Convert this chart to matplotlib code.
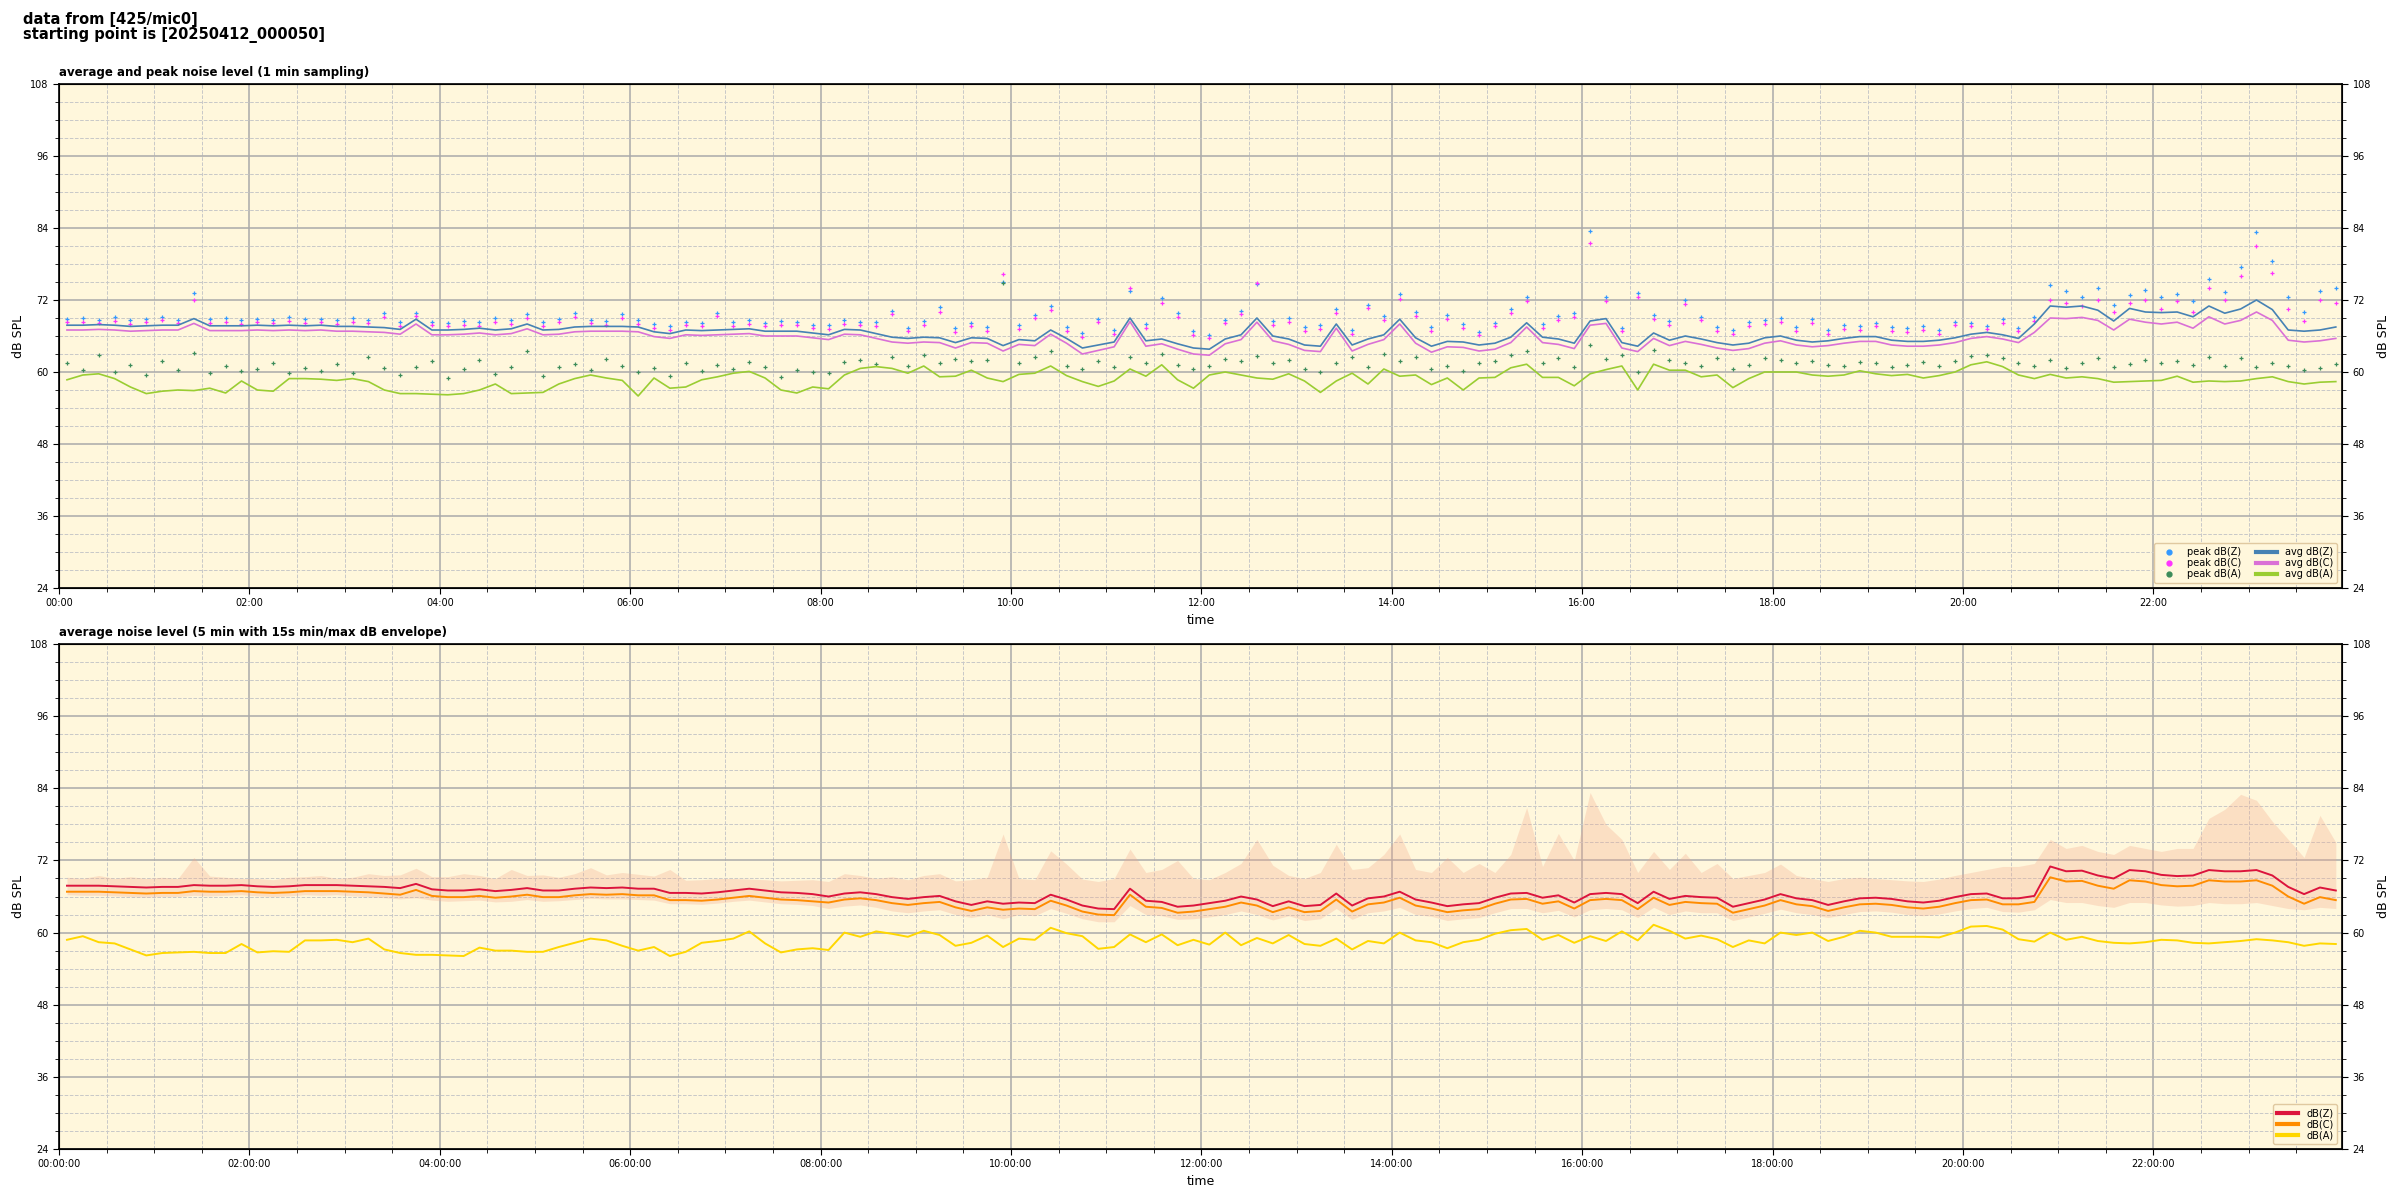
import numpy as np
import matplotlib
matplotlib.use("Agg")
import matplotlib.pyplot as plt
from matplotlib.lines import Line2D
from matplotlib.ticker import MultipleLocator, FuncFormatter

# ---------------- data (10-minute resolution) ----------------
minutes = np.arange(5, 1440, 10)  # sample centres in minutes after 00:00

# top chart: 1-min average levels
avg_z = [67.8, 67.8, 67.9, 67.8, 67.6, 67.7, 67.8, 67.8, 68.9, 67.7, 67.7, 67.7,
         67.8, 67.7, 67.8, 67.7, 67.8, 67.6, 67.6, 67.5, 67.4, 67.1, 68.8, 67.0,
         67.0, 67.1, 67.3, 67.0, 67.2, 68.0, 67.0, 67.1, 67.5, 67.6, 67.6, 67.6,
         67.5, 66.7, 66.4, 67.0, 66.9, 67.0, 67.1, 67.2, 66.8, 66.8, 66.8, 66.5,
         66.2, 67.1, 67.0, 66.4, 65.8, 65.6, 65.8, 65.7, 64.9, 65.7, 65.6, 64.4,
         65.4, 65.2, 67.0, 65.6, 64.0, 64.5, 65.0, 69.0, 65.2, 65.5, 64.7, 64.0,
         63.8, 65.5, 66.2, 69.0, 66.0, 65.5, 64.5, 64.3, 68.0, 64.5, 65.5, 66.2,
         68.8, 65.7, 64.3, 65.1, 65.0, 64.5, 64.8, 65.8, 68.2, 65.8, 65.5, 64.8,
         68.5, 68.9, 64.9, 64.3, 66.5, 65.3, 66.0, 65.5, 64.9, 64.5, 64.8, 65.7,
         66.0, 65.3, 65.0, 65.2, 65.6, 65.9, 65.9, 65.3, 65.1, 65.1, 65.3, 65.7,
         66.3, 66.6, 66.2, 65.6, 68.0, 71.0, 70.8, 71.0, 70.3, 68.5, 70.6, 70.0,
         69.9, 70.0, 69.2, 71.0, 69.8, 70.5, 72.0, 70.4, 67.0, 66.8, 67.0, 67.5]
avg_c = [67.0, 67.0, 67.1, 67.0, 66.8, 66.9, 67.0, 67.0, 68.1, 66.9, 66.9, 66.9,
         67.0, 66.9, 67.0, 66.9, 67.0, 66.8, 66.8, 66.7, 66.6, 66.3, 68.0, 66.2,
         66.2, 66.3, 66.5, 66.2, 66.4, 67.2, 66.2, 66.3, 66.7, 66.8, 66.8, 66.8,
         66.7, 65.9, 65.6, 66.2, 66.1, 66.2, 66.3, 66.4, 66.0, 66.0, 66.0, 65.7,
         65.4, 66.3, 66.2, 65.6, 65.0, 64.8, 65.0, 64.9, 64.0, 64.9, 64.8, 63.5,
         64.6, 64.4, 66.3, 64.8, 63.0, 63.6, 64.2, 68.4, 64.3, 64.7, 63.8, 63.0,
         62.8, 64.7, 65.4, 68.3, 65.2, 64.6, 63.6, 63.4, 67.3, 63.5, 64.6, 65.4,
         68.0, 64.8, 63.3, 64.2, 64.1, 63.5, 63.8, 64.9, 67.5, 64.9, 64.6, 63.9,
         67.8, 68.1, 64.0, 63.4, 65.6, 64.4, 65.1, 64.6, 64.0, 63.6, 63.9, 64.8,
         65.2, 64.5, 64.2, 64.4, 64.8, 65.1, 65.1, 64.5, 64.3, 64.3, 64.5, 64.9,
         65.6, 65.9, 65.5, 64.9, 66.6, 69.0, 68.9, 69.1, 68.6, 67.0, 68.8, 68.3,
         68.0, 68.3, 67.3, 69.2, 68.0, 68.6, 70.0, 68.6, 65.3, 65.0, 65.2, 65.6]
avg_a = [58.7, 59.5, 59.7, 58.9, 57.5, 56.4, 56.8, 57.0, 56.9, 57.3, 56.5, 58.5,
         57.0, 56.8, 58.9, 58.9, 58.8, 58.6, 58.9, 58.4, 57.0, 56.4, 56.4, 56.3,
         56.2, 56.4, 57.0, 58.0, 56.4, 56.5, 56.6, 58.0, 58.9, 59.5, 59.0, 58.6,
         56.0, 59.0, 57.3, 57.5, 58.7, 59.2, 59.8, 60.1, 59.0, 57.0, 56.5, 57.5,
         57.2, 59.5, 60.6, 60.9, 60.6, 59.8, 61.0, 59.2, 59.3, 60.3, 59.0, 58.4,
         59.6, 59.8, 61.0, 59.4, 58.4, 57.6, 58.5, 60.5, 59.3, 61.2, 58.7, 57.3,
         59.5, 60.0, 59.5, 59.0, 58.8, 59.7, 58.5, 56.6, 58.5, 59.8, 58.0, 60.5,
         59.3, 59.5, 57.9, 59.0, 57.0, 59.0, 59.1, 60.7, 61.3, 59.1, 59.1, 57.7,
         59.7, 60.4, 61.0, 57.0, 61.3, 60.3, 60.3, 59.2, 59.5, 57.4, 58.9, 60.0,
         60.0, 60.0, 59.5, 59.3, 59.5, 60.2, 59.7, 59.4, 59.6, 59.0, 59.4, 60.0,
         61.2, 61.7, 60.9, 59.5, 58.9, 59.6, 59.0, 59.2, 58.9, 58.3, 58.4, 58.5,
         58.6, 59.3, 58.3, 58.5, 58.4, 58.5, 58.9, 59.2, 58.4, 58.0, 58.3, 58.4]

# top chart: peak levels
peak_z = [68.8, 69.0, 68.7, 69.1, 68.6, 68.9, 69.2, 68.7, 73.2, 68.8, 69.0, 68.6,
          68.9, 68.7, 69.1, 68.8, 68.9, 68.6, 69.0, 68.7, 69.8, 68.3, 69.9, 68.4,
          68.2, 68.5, 68.3, 69.0, 68.6, 69.6, 68.3, 68.9, 69.8, 68.7, 68.5, 69.7,
          68.6, 68.0, 67.6, 68.4, 68.2, 69.9, 68.3, 68.6, 68.2, 68.5, 68.4, 67.9,
          67.8, 68.6, 68.4, 68.3, 70.2, 67.4, 68.5, 70.8, 67.3, 68.2, 67.5, 75.0,
          67.8, 69.5, 71.0, 67.5, 66.5, 68.9, 67.0, 73.5, 68.0, 72.3, 69.8, 66.8,
          66.2, 68.7, 70.2, 74.6, 68.5, 69.0, 67.5, 67.8, 70.5, 67.0, 71.2, 69.3,
          73.0, 70.0, 67.5, 69.5, 68.0, 66.7, 68.2, 70.5, 72.5, 68.0, 69.3, 69.8,
          83.5, 72.5, 67.4, 73.2, 69.5, 68.5, 72.0, 69.2, 67.5, 67.0, 68.3, 68.6,
          69.0, 67.5, 68.8, 67.0, 67.8, 67.6, 68.2, 67.5, 67.3, 67.6, 67.0, 68.4,
          68.2, 67.7, 68.8, 67.4, 69.2, 74.5, 73.5, 72.5, 74.0, 71.2, 72.8, 73.6,
          72.5, 73.0, 71.8, 75.5, 73.3, 77.5, 83.4, 78.5, 72.5, 70.0, 73.5, 74.0]
peak_c = [68.3, 68.4, 68.2, 68.5, 68.0, 68.3, 68.6, 68.1, 72.0, 68.2, 68.4, 68.0,
          68.3, 68.1, 68.5, 68.2, 68.3, 68.0, 68.4, 68.1, 69.1, 67.7, 69.3, 67.8,
          67.6, 67.9, 67.7, 68.4, 68.0, 69.0, 67.7, 68.3, 69.2, 68.1, 67.9, 69.0,
          68.0, 67.4, 67.0, 67.8, 67.6, 69.3, 67.7, 68.0, 67.6, 67.9, 67.8, 67.3,
          67.2, 68.0, 67.8, 67.7, 69.6, 66.8, 67.9, 70.0, 66.7, 67.6, 66.9, 76.4,
          67.2, 69.0, 70.4, 66.9, 65.9, 68.3, 66.4, 74.0, 67.4, 71.5, 69.2, 66.2,
          65.6, 68.1, 69.6, 74.9, 67.9, 68.4, 66.9, 67.2, 69.9, 66.4, 70.6, 68.7,
          72.2, 69.4, 66.9, 68.9, 67.4, 66.1, 67.6, 69.9, 71.8, 67.4, 68.7, 69.2,
          81.5, 71.8, 66.8, 72.5, 68.9, 67.9, 71.4, 68.6, 66.9, 66.4, 67.7, 68.0,
          68.4, 66.9, 68.2, 66.4, 67.2, 67.0, 67.6, 66.9, 66.7, 67.0, 66.4, 67.8,
          67.6, 67.1, 68.2, 66.8, 68.5, 72.0, 71.5, 71.0, 72.0, 70.0, 71.5, 72.0,
          70.5, 71.8, 70.0, 74.0, 72.0, 76.0, 81.0, 76.5, 70.5, 68.5, 72.0, 71.5]
peak_a = [61.5, 60.3, 62.8, 60.0, 61.2, 59.5, 61.8, 60.4, 63.2, 59.8, 61.0, 60.2,
          60.5, 61.5, 59.8, 60.7, 60.2, 61.3, 59.9, 62.5, 60.6, 59.5, 60.8, 61.8,
          59.0, 60.5, 62.0, 59.7, 60.9, 63.5, 59.4, 60.8, 61.4, 60.3, 62.1, 61.0,
          60.0, 60.7, 59.3, 61.5, 60.2, 61.2, 60.5, 61.6, 60.8, 59.2, 60.3, 60.0,
          59.8, 61.6, 62.0, 61.3, 62.5, 61.0, 62.8, 61.5, 62.2, 61.8, 62.0, 74.8,
          61.5, 62.5, 63.5, 61.0, 60.5, 61.8, 60.8, 62.5, 61.5, 63.0, 61.2, 60.5,
          61.0, 62.2, 61.8, 62.7, 61.5, 62.0, 60.5, 60.0, 61.5, 62.5, 60.8, 63.0,
          61.8, 62.5, 60.5, 61.0, 60.2, 61.5, 61.8, 62.8, 63.5, 61.5, 62.4, 60.8,
          64.5, 62.2, 62.8, 60.0, 63.6, 62.0, 61.5, 61.0, 62.4, 60.5, 61.2, 62.3,
          62.0, 61.5, 61.8, 61.2, 61.0, 61.6, 61.5, 60.8, 61.2, 61.6, 61.0, 61.9,
          62.6, 62.9, 62.3, 61.5, 61.0, 62.0, 60.6, 61.5, 62.3, 60.8, 61.4, 62.0,
          61.5, 61.8, 61.2, 62.5, 61.0, 62.3, 60.9, 61.5, 61.0, 60.3, 60.6, 61.4]

# bottom chart: 5-min averages and 15 s min/max envelope
lvl_z = [67.8, 67.8, 67.8, 67.7, 67.6, 67.5, 67.6, 67.6, 67.9, 67.8, 67.8, 67.9,
         67.7, 67.6, 67.7, 67.9, 67.9, 67.9, 67.8, 67.7, 67.6, 67.4, 68.1, 67.2,
         67.0, 67.0, 67.2, 66.9, 67.1, 67.4, 67.0, 67.0, 67.3, 67.5, 67.4, 67.5,
         67.3, 67.3, 66.6, 66.6, 66.5, 66.7, 67.0, 67.3, 67.0, 66.7, 66.6, 66.4,
         66.0, 66.5, 66.7, 66.4, 65.9, 65.6, 65.9, 66.1, 65.2, 64.6, 65.2, 64.8,
         65.0, 64.9, 66.3, 65.5, 64.5, 64.0, 63.9, 67.3, 65.3, 65.1, 64.3, 64.5,
         64.9, 65.3, 66.0, 65.5, 64.4, 65.2, 64.4, 64.6, 66.5, 64.5, 65.7, 66.0,
         66.8, 65.5, 65.0, 64.4, 64.7, 64.9, 65.8, 66.5, 66.6, 65.8, 66.2, 65.0,
         66.4, 66.6, 66.4, 64.9, 66.8, 65.6, 66.1, 65.9, 65.8, 64.3, 64.9, 65.5,
         66.4, 65.7, 65.4, 64.6, 65.2, 65.7, 65.8, 65.6, 65.2, 65.0, 65.3, 65.9,
         66.4, 66.5, 65.7, 65.7, 66.1, 71.0, 70.2, 70.3, 69.5, 69.0, 70.4, 70.2,
         69.6, 69.4, 69.5, 70.4, 70.2, 70.2, 70.4, 69.5, 67.6, 66.4, 67.5, 67.0]
lvl_c = [66.8, 66.8, 66.8, 66.7, 66.6, 66.5, 66.6, 66.6, 66.9, 66.8, 66.8, 66.9,
         66.7, 66.6, 66.7, 66.9, 66.9, 66.9, 66.8, 66.7, 66.5, 66.3, 67.1, 66.1,
         65.9, 65.9, 66.1, 65.8, 66.0, 66.3, 65.9, 65.9, 66.2, 66.4, 66.3, 66.4,
         66.2, 66.2, 65.4, 65.4, 65.3, 65.5, 65.8, 66.1, 65.8, 65.5, 65.4, 65.2,
         65.0, 65.5, 65.7, 65.4, 64.9, 64.6, 64.9, 65.1, 64.2, 63.6, 64.2, 63.8,
         64.0, 63.9, 65.3, 64.5, 63.5, 63.0, 62.9, 66.3, 64.3, 64.1, 63.3, 63.5,
         63.9, 64.3, 65.0, 64.5, 63.4, 64.2, 63.4, 63.6, 65.5, 63.5, 64.7, 65.0,
         65.8, 64.5, 64.0, 63.4, 63.7, 63.9, 64.8, 65.5, 65.6, 64.8, 65.2, 64.0,
         65.4, 65.6, 65.4, 63.9, 65.8, 64.6, 65.1, 64.9, 64.8, 63.3, 63.9, 64.5,
         65.4, 64.7, 64.4, 63.6, 64.2, 64.7, 64.8, 64.6, 64.2, 64.0, 64.3, 64.9,
         65.4, 65.5, 64.7, 64.7, 65.1, 69.2, 68.5, 68.6, 67.8, 67.3, 68.7, 68.5,
         67.9, 67.7, 67.8, 68.7, 68.5, 68.5, 68.7, 67.8, 66.0, 64.8, 65.9, 65.4]
lvl_a = [58.8, 59.4, 58.4, 58.2, 57.2, 56.2, 56.6, 56.7, 56.8, 56.6, 56.6, 58.1,
         56.7, 56.9, 56.8, 58.7, 58.7, 58.8, 58.4, 59.0, 57.2, 56.6, 56.3, 56.3,
         56.2, 56.1, 57.5, 57.0, 57.0, 56.8, 56.8, 57.6, 58.3, 59.0, 58.7, 57.8,
         57.0, 57.6, 56.1, 56.8, 58.3, 58.6, 59.0, 60.2, 58.2, 56.7, 57.2, 57.4,
         57.1, 60.0, 59.3, 60.2, 59.8, 59.3, 60.3, 59.6, 57.8, 58.3, 59.5, 57.6,
         59.0, 58.8, 60.8, 59.9, 59.4, 57.3, 57.6, 59.7, 58.4, 59.7, 57.9, 58.8,
         58.0, 60.0, 57.9, 59.1, 58.2, 59.6, 58.1, 57.8, 59.0, 57.2, 58.6, 58.2,
         60.0, 58.7, 58.4, 57.4, 58.4, 58.8, 59.8, 60.4, 60.6, 58.8, 59.6, 58.3,
         59.4, 58.6, 60.2, 58.7, 61.3, 60.3, 59.0, 59.5, 58.9, 57.6, 58.7, 58.2,
         60.0, 59.6, 60.0, 58.6, 59.3, 60.3, 60.0, 59.3, 59.3, 59.3, 59.2, 60.0,
         61.0, 61.1, 60.5, 58.9, 58.5, 60.0, 58.8, 59.3, 58.6, 58.3, 58.2, 58.4,
         58.8, 58.7, 58.3, 58.2, 58.4, 58.6, 58.9, 58.7, 58.4, 57.8, 58.2, 58.1]
env_lo = [66.3, 66.2, 66.2, 66.1, 66.0, 65.9, 66.0, 66.0, 66.2, 66.1, 66.2, 66.3,
          66.1, 66.0, 66.1, 66.3, 66.2, 66.3, 66.1, 66.0, 65.8, 65.6, 65.8, 65.4,
          65.2, 65.3, 65.4, 65.1, 65.2, 65.5, 65.2, 65.3, 65.5, 65.7, 65.6, 65.6,
          65.5, 65.4, 64.8, 64.8, 64.7, 64.9, 65.2, 65.4, 65.1, 64.8, 64.7, 64.5,
          64.0, 64.4, 64.6, 64.2, 63.6, 63.3, 63.6, 63.8, 63.0, 62.5, 63.0, 62.3,
          63.0, 62.8, 64.0, 63.2, 62.3, 61.8, 61.8, 64.5, 63.0, 62.8, 62.2, 62.3,
          62.6, 63.0, 63.6, 63.0, 62.1, 62.8, 62.0, 62.3, 64.0, 62.2, 63.3, 63.6,
          64.2, 63.0, 62.7, 62.0, 62.3, 62.5, 63.3, 64.0, 64.0, 63.3, 63.7, 62.6,
          63.8, 64.0, 63.8, 62.5, 64.2, 63.0, 63.6, 63.3, 63.3, 62.0, 62.6, 63.2,
          63.9, 63.3, 63.0, 62.5, 63.0, 63.5, 63.6, 63.4, 63.0, 62.8, 63.1, 63.6,
          64.0, 64.2, 63.5, 63.4, 63.8, 65.5, 65.0, 65.0, 64.5, 64.2, 65.0, 65.0,
          64.6, 64.4, 64.5, 65.0, 64.8, 64.8, 65.0, 64.5, 64.0, 63.8, 64.2, 64.0]
env_hi = [69.2, 69.0, 69.5, 69.0, 69.3, 69.0, 69.2, 69.0, 72.5, 69.4, 69.2, 69.0,
          69.0, 68.8, 69.2, 69.3, 69.5, 69.0, 69.2, 69.8, 69.5, 69.6, 70.7, 69.3,
          69.3, 69.8, 69.5, 69.0, 70.5, 69.5, 69.6, 69.2, 69.8, 70.8, 69.6, 70.0,
          69.7, 69.4, 70.5, 68.7, 68.8, 69.0, 69.0, 68.9, 68.8, 68.6, 68.7, 68.8,
          68.5, 69.8, 69.5, 69.0, 69.3, 68.8, 69.5, 69.8, 68.6, 68.8, 69.2, 76.4,
          69.0, 68.8, 73.6, 71.4, 68.9, 68.5, 69.0, 73.9, 70.0, 70.5, 72.0, 69.0,
          68.8, 70.0, 71.5, 75.5, 71.2, 69.5, 69.0, 70.0, 74.7, 70.5, 70.8, 73.0,
          76.4, 70.5, 70.0, 72.5, 70.0, 71.5, 70.0, 73.0, 80.8, 71.0, 76.5, 72.0,
          83.3, 78.0, 75.5, 70.0, 73.5, 70.5, 73.2, 70.0, 71.5, 69.0, 69.5, 70.0,
          71.4, 69.5, 69.0, 68.5, 69.0, 69.2, 69.0, 68.8, 68.6, 68.5, 68.9, 69.5,
          70.0, 70.5, 71.0, 71.0, 71.5, 75.5, 74.0, 74.5, 73.5, 73.0, 74.5, 74.0,
          73.5, 74.0, 74.0, 79.0, 80.5, 83.0, 82.0, 78.5, 75.5, 72.5, 79.5, 75.0]

y_ticks = [24, 36, 48, 60, 72, 84, 96, 108]
x_tick_hours = [0, 2, 4, 6, 8, 10, 12, 14, 16, 18, 20, 22]

# ---------------- figure ----------------
BG = "#fff7dc"
hours = minutes / 60.0

fig = plt.figure(figsize=(24, 12), dpi=100)
fig.text(0.0095, 0.99, "data from [425/mic0]\nstarting point is [20250412_000050]",
         ha="left", va="top", fontsize=10.5, fontweight="bold", linespacing=1.0)

ax1 = fig.add_axes([0.0246, 0.51, 0.9513, 0.42])
ax2 = fig.add_axes([0.0246, 0.0425, 0.9513, 0.4208])


def style(ax, fmt):
    ax.set_facecolor(BG)
    ax.set_xlim(0, 1439 / 60.0)
    ax.set_ylim(24, 108)
    ax.set_yticks(y_ticks)
    ax.yaxis.set_minor_locator(MultipleLocator(3))
    ax.set_xticks(x_tick_hours)
    ax.xaxis.set_minor_locator(MultipleLocator(0.5))
    ax.xaxis.set_major_formatter(FuncFormatter(lambda v, p: fmt % int(round(v))))
    ax.grid(which="major", color="#aaaaaa", lw=1.1, ls="-")
    ax.grid(which="minor", color="#c8c8c8", lw=0.7, ls="--")
    ax.set_axisbelow(True)
    ax.tick_params(labelsize=7, length=4)
    ax.tick_params(which="minor", length=3)
    ax.set_ylabel("dB SPL", fontsize=9)
    ax.set_xlabel("time", fontsize=9)
    for s in ax.spines.values():
        s.set_linewidth(1.2)
    tw = ax.twinx()
    tw.set_ylim(24, 108)
    tw.set_yticks(y_ticks)
    tw.yaxis.set_minor_locator(MultipleLocator(3))
    tw.tick_params(labelsize=7, length=4)
    tw.tick_params(which="minor", length=3)
    tw.set_ylabel("dB SPL", fontsize=9)
    return tw


style(ax1, "%02d:00")
style(ax2, "%02d:00:00")

# top chart
ax1.set_title("average and peak noise level (1 min sampling)", loc="left",
              fontsize=8.5, fontweight="bold")
ax1.scatter(hours, peak_z, marker="+", s=12, lw=0.9, color="#3399ff", zorder=3)
ax1.scatter(hours, peak_c, marker="+", s=12, lw=0.9, color="#ff33ff", zorder=3)
ax1.scatter(hours, peak_a, marker="+", s=12, lw=0.9, color="#3c8c5a", zorder=3)
ax1.plot(hours, avg_z, color="#4682b4", lw=1.2, zorder=4)
ax1.plot(hours, avg_c, color="#da70d6", lw=1.2, zorder=4)
ax1.plot(hours, avg_a, color="#9acd32", lw=1.2, zorder=4)

handles1 = [
    Line2D([], [], ls="", marker="o", ms=3.5, color="#3399ff", label="peak dB(Z)"),
    Line2D([], [], ls="", marker="o", ms=3.5, color="#ff33ff", label="peak dB(C)"),
    Line2D([], [], ls="", marker="o", ms=3.5, color="#3c8c5a", label="peak dB(A)"),
    Line2D([], [], color="#4682b4", lw=3, label="avg dB(Z)"),
    Line2D([], [], color="#da70d6", lw=3, label="avg dB(C)"),
    Line2D([], [], color="#9acd32", lw=3, label="avg dB(A)"),
]
ax1.legend(handles=handles1, loc="lower right", ncol=2, fontsize=7,
           facecolor=BG, edgecolor="#e0c9a0", framealpha=1,
           handlelength=2.2, columnspacing=1.5, labelspacing=0.1)

# bottom chart
ax2.set_title("average noise level (5 min with 15s min/max dB envelope)", loc="left",
              fontsize=8.5, fontweight="bold")
ax2.fill_between(hours, env_lo, env_hi, color="#f4a98c", alpha=0.3, lw=0, zorder=2)
ax2.plot(hours, lvl_z, color="#dc143c", lw=1.4, zorder=4)
ax2.plot(hours, lvl_c, color="#ff8c00", lw=1.4, zorder=4)
ax2.plot(hours, lvl_a, color="#ffd700", lw=1.4, zorder=4)
handles2 = [
    Line2D([], [], color="#dc143c", lw=3, label="dB(Z)"),
    Line2D([], [], color="#ff8c00", lw=3, label="dB(C)"),
    Line2D([], [], color="#ffd700", lw=3, label="dB(A)"),
]
ax2.legend(handles=handles2, loc="lower right", fontsize=7, facecolor=BG,
           edgecolor="#e0c9a0", framealpha=1, handlelength=2.2, labelspacing=0.1)

fig.savefig("out.png", dpi=100)
